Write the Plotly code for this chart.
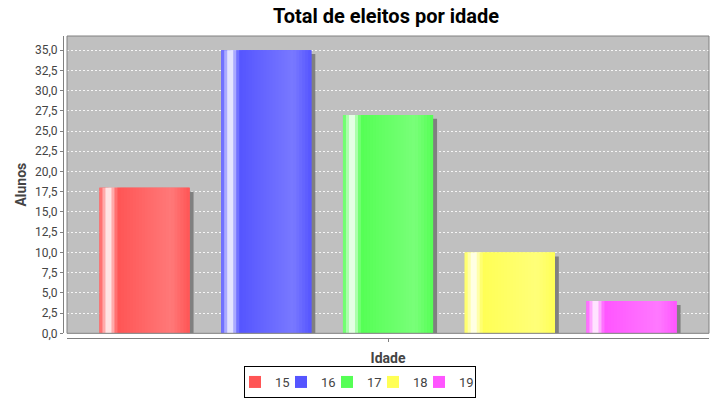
import plotly.graph_objects as go

# data
idades = ["15", "16", "17", "18", "19"]
alunos = [18, 35, 27, 10, 4]
cores = [(255, 85, 85), (85, 85, 255), (85, 255, 85), (255, 255, 85), (255, 85, 255)]

BAR_W = 0.74
N_STRIPS = 30
SHADOW_DX = 0.033
SHADOW_DY = 0.49


def brighter(c):
    return tuple(min(255, int(v / 0.7)) for v in c)


def mix(a, b, t):
    return tuple(a[i] + (b[i] - a[i]) * t for i in range(3))


def gradient_color(c0, t):
    # jfreechart GradientBarPainter style: c0 -> white -> c0 -> brighter -> c0
    c1 = brighter(c0)
    white = (255, 255, 255)
    if t < 0.1:
        c = mix(c0, white, t / 0.1)
    elif t < 0.2:
        c = mix(white, c0, (t - 0.1) / 0.1)
    elif t < 0.8:
        c = mix(c0, c1, (t - 0.2) / 0.6)
    else:
        c = mix(c1, c0, (t - 0.8) / 0.2)
    return "rgb(%d,%d,%d)" % tuple(round(v) for v in c)


xs = list(range(len(idades)))
fig = go.Figure()

# shadow
fig.add_trace(go.Bar(
    x=xs, y=[v - SHADOW_DY for v in alunos],
    offset=-BAR_W / 2 + SHADOW_DX, width=BAR_W,
    marker_color="#808080", marker_line_width=0,
    showlegend=False, hoverinfo="skip",
))

# base bars (also legend)
for i, (lab, v, c) in enumerate(zip(idades, alunos, cores)):
    fig.add_trace(go.Bar(
        x=[i], y=[v], name=lab,
        offset=-BAR_W / 2, width=BAR_W,
        marker_color="rgb(%d,%d,%d)" % c, marker_line_width=0,
    ))

# gradient strips, each one overlapping the next so no seams show
sw = BAR_W / N_STRIPS
for k in range(N_STRIPS):
    t = (k + 0.5) / N_STRIPS
    w = sw * 2 if k < N_STRIPS - 1 else sw
    fig.add_trace(go.Bar(
        x=xs, y=alunos,
        offset=-BAR_W / 2 + k * sw, width=w,
        marker_color=[gradient_color(c, t) for c in cores],
        marker_line_width=0,
        showlegend=False, hoverinfo="skip",
    ))

fig.update_layout(
    width=720, height=400,
    margin=dict(l=63, r=11, t=36, b=62),
    paper_bgcolor="white",
    plot_bgcolor="#c0c0c0",
    barmode="overlay",
    separators=",.",
    font=dict(family="Roboto", size=12, color="#444444"),
    title=dict(
        text="Total de eleitos por idade",
        x=0.5, xref="paper", xanchor="center",
        y=0.96, yanchor="middle", yref="container",
        automargin=False,
        font=dict(family="Roboto", size=20, color="#000000", weight="bold"),
    ),
    legend=dict(
        orientation="h",
        x=0.5, xanchor="center", xref="container",
        y=0.005, yanchor="bottom", yref="container",
        bordercolor="#000000", borderwidth=1,
        font=dict(size=13, color="#444444"),
        itemwidth=30,
        indentation=-10,
        entrywidth=11,
        tracegroupgap=0,
    ),
    showlegend=True,
)

fig.update_xaxes(
    range=[-0.6365, 4.6365],
    domain=[0.0062, 1],
    anchor="free", position=0,
    automargin=False,
    showgrid=False, zeroline=False,
    showline=True, linecolor="#808080", linewidth=1,
    tickvals=[2], ticktext=[""], ticks="outside", ticklen=3, tickcolor="#808080",
    title=dict(text="Idade", font=dict(size=14, color="#444444", weight="bold"), standoff=10),
)

fig.update_yaxes(
    range=[0, 36.75],
    domain=[0.0155, 1],
    anchor="free", position=0,
    automargin=False,
    dtick=2.5, tick0=0, tickformat=".1f",
    showgrid=True, gridcolor="rgba(255,255,255,0.85)", gridwidth=1, griddash="2px,2px",
    zeroline=False,
    showline=True, linecolor="#808080", linewidth=1,
    ticks="outside", ticklen=3, tickcolor="#808080",
    title=dict(text="Alunos", font=dict(size=14, color="#444444", weight="bold"), standoff=4),
)

# plot outline
fig.add_shape(
    type="rect", xref="x domain", yref="y domain",
    x0=0, x1=1, y0=0, y1=1,
    line=dict(color="#808080", width=1), fillcolor="rgba(0,0,0,0)",
    layer="above",
)

# the page body has a default 8px margin; drop it so the chart fills the window
fig.write_html(
    "out.html",
    config={"displayModeBar": False},
    post_script="document.body.style.margin='0';",
)
